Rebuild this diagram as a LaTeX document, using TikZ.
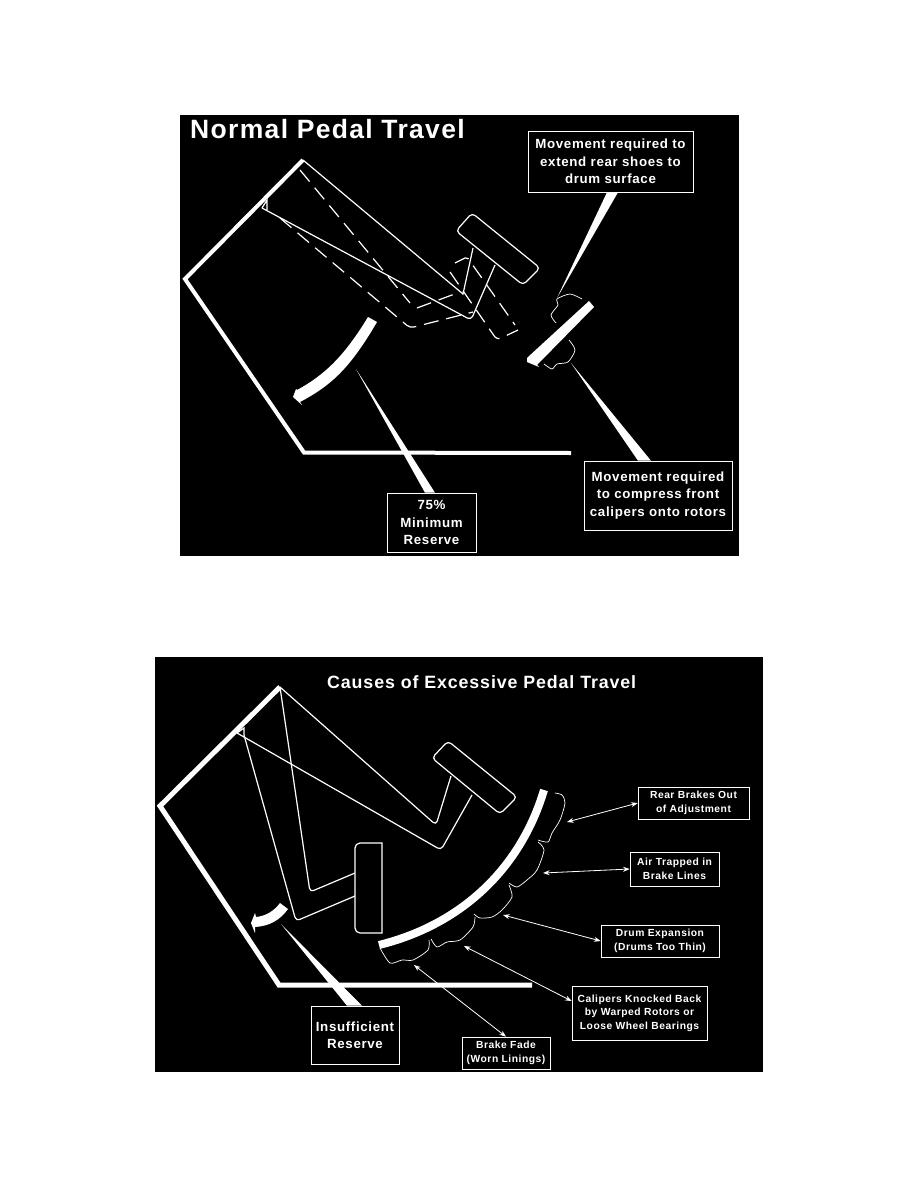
\documentclass[tikz,border=0pt]{standalone}
\usepackage{xcolor}
\usepackage{fontspec}
\setsansfont{Liberation Sans}[LetterSpace=5]
\usetikzlibrary{arrows.meta,calc}
\definecolor{pdBlack}{HTML}{000000}
\definecolor{pdWhite}{HTML}{FFFFFF}
\tikzset{
  pd-box/.style={
    draw=pdWhite, line width=0.6pt, text=pdWhite, align=center,
    inner sep=0pt, font=\fontsize{13.3}{17.5}\selectfont\bfseries\sffamily
  },
  pd-small/.style={pd-box, font=\fontsize{10.3}{13.5}\selectfont\bfseries\sffamily},
  pd-title/.style={text=pdWhite, inner sep=0pt, anchor=west},
  pd-frame/.style={draw=pdWhite, line width=4pt, line join=miter},
  pd-line/.style={draw=pdWhite, line width=1.2pt},
  pd-dash/.style={pd-line, dash pattern=on 15pt off 8pt},
  pd-brace/.style={draw=pdWhite, line width=0.7pt, smooth, tension=0.45},
  pd-flow/.style={Stealth-Stealth, draw=pdWhite, line width=0.8pt}
}
\begin{document}
\begin{tikzpicture}[x=1pt, y=-1pt]
\useasboundingbox (0,0) rectangle (918,1188);
\fill[pdWhite] (0,0) rectangle (918,1188);
\fill[pdBlack] (180,115) rectangle (739,556);
\fill[pdBlack] (155,657) rectangle (763,1072);

% --- Normal Pedal Travel ---
\node[pd-title, font=\fontsize{26.5}{30}\selectfont\bfseries\sffamily] (normaltitle) at (190,129.5) {Normal Pedal Travel};
\node[pd-box, minimum width=165pt, minimum height=61pt] (shoesbox) at (610.5,161.5)
  {Movement required to\\extend rear shoes to\\drum surface};
\node[pd-box, minimum width=148pt, minimum height=69pt] (compressbox) at (658,495.5)
  {Movement required\\to compress front\\calipers onto rotors};
\node[pd-box, minimum width=89pt, minimum height=59pt] (reservebox) at (431.5,522.5)
  {75\%\\Minimum\\Reserve};

% floor frame
\draw[pd-frame] (303,160) -- (185,279) -- (304,452.5) -- (571,453);

% pedal at rest
\draw[pd-line] (303,160) -- (463,294) -- (473,248);
\draw[pd-line, rounded corners=4pt] (262,208) -- (471,320) -- (495,265);
\draw[pd-line] (262,208) -- (267,200) -- (267,210);
\draw[pd-line, fill=pdBlack, rounded corners=4pt] (472,213) -- (540,268) -- (523,285) -- (456,231) -- cycle;

% pedal pushed
\draw[pd-dash] (300,170) -- (410,303);
\draw[pd-dash] (417,308) -- (460,292);
\draw[pd-dash, rounded corners=4pt] (280,218) -- (410,328) -- (473,312);
\draw[pd-dash, rounded corners=4pt] (450,272) -- (497,340) -- (518,330);
\draw[pd-dash, rounded corners=2pt] (455,263) -- (467,257) -- (515,325);

% reserve arrow
\fill[pdWhite] (377,322) .. controls (350,368) and (332,385) .. (300,402)
  -- (302,405) -- (293,397) -- (296,389) -- (297,390)
  .. controls (325,375) and (345,355) .. (368,317) -- cycle;

% shoe bar
\fill[pdWhite] (589,301) -- (594,307) -- (537,365) -- (539,367) -- (527,362) -- (527,358) -- (528,357) -- cycle;

% braces
\draw[pd-brace] plot coordinates {(582,299) (570,294) (557,299) (558,305) (551,315) (556,323)};
\draw[pd-brace] plot coordinates {(569,340) (575,350) (568,362) (557,364) (552,369) (544,364)};
\coordinate (shoescusp) at (557,298);
\coordinate (compresscusp) at (571,363);
\coordinate (reservetip) at (356,369);
\fill[pdWhite] (shoescusp) -- ($(shoesbox.south)+(-3.5,0)$) -- ($(shoesbox.south)+(7.5,0)$) -- cycle;
\fill[pdWhite] (compresscusp) -- ($(compressbox.north)+(-20,0)$) -- ($(compressbox.north)+(-7,0)$) -- cycle;
\fill[pdWhite] (reservetip) -- ($(reservebox.north)+(-6.5,0)$) -- ($(reservebox.north)+(3.5,0)$) -- cycle;

% --- Causes of Excessive Pedal Travel ---
\node[pd-title, font=\fontsize{17.8}{22}\selectfont\bfseries\sffamily] (causestitle) at (327,682) {Causes of Excessive Pedal Travel};
\node[pd-box, minimum width=88pt, minimum height=58pt] (insuffbox) at (355,1035)
  {Insufficient\\Reserve};
\node[pd-small, minimum width=88pt, minimum height=32pt] (fadebox) at (506,1053)
  {Brake Fade\\(Worn Linings)};
\node[pd-small, minimum width=135pt, minimum height=54pt] (calipersbox) at (639.5,1013)
  {Calipers Knocked Back\\by Warped Rotors or\\Loose Wheel Bearings};
\node[pd-small, minimum width=118pt, minimum height=32pt] (drumbox) at (660,941)
  {Drum Expansion\\(Drums Too Thin)};
\node[pd-small, minimum width=89pt, minimum height=34pt] (airbox) at (674.5,869)
  {Air Trapped in\\Brake Lines};
\node[pd-small, minimum width=111pt, minimum height=32pt] (rearbox) at (693.5,803)
  {Rear Brakes Out\\of Adjustment};

% floor frame
\draw[pd-frame, line width=5pt] (280,687) -- (160,806) -- (279,985) -- (532,985);

% pedal at rest
\draw[pd-line, rounded corners=4pt] (280,687) -- (436,825) -- (451,776);
\draw[pd-line, rounded corners=4pt] (237,733) -- (441,850) -- (472,795);
\draw[pd-line, fill=pdBlack, rounded corners=4pt] (448,741) -- (517,797) -- (500,814) -- (432,758) -- cycle;

% pedal pushed
\draw[pd-line] (237,733) -- (244,728) -- (244,735);
\draw[pd-line, rounded corners=4pt] (244,735) -- (296,921) -- (355,896);
\draw[pd-line, rounded corners=4pt] (280,687) -- (310,892) -- (355,873);
\draw[pd-line] (382,933) [rounded corners=5pt] -- (355,933) -- (355,843) [sharp corners] -- (382,843) -- cycle;

% reserve arrow
\fill[pdWhite] (288,909) .. controls (280,920) and (270,926) .. (255,927)
  -- (255,933) -- (251,923) -- (255,913) -- (256,917)
  .. controls (266,916) and (274,911) .. (280,903) -- cycle;

% drum arc
\draw[draw=pdWhite, line width=8pt] (544,790) .. controls (520,870) and (460,925) .. (379,945);

% braces
\draw[pd-brace] plot coordinates {(555,793) (562,795) (565,803) (560,820) (552,833) (548,842) (538,840)};
\draw[pd-brace] plot coordinates {(538,842) (544,850) (537,870) (527,880) (517,887) (509,883)};
\draw[pd-brace] plot coordinates {(509,885) (512,897) (502,910) (492,917) (480,918) (474,914)};
\draw[pd-brace] plot coordinates {(475,917) (473,927) (460,940) (447,942) (437,947) (431,939)};
\draw[pd-brace] plot coordinates {(429,940) (428,950) (413,960) (402,960) (390,963) (380,948)};
\coordinate (rearcusp) at (567,822);
\coordinate (aircusp) at (543,873);
\coordinate (drumcusp) at (503,915);
\coordinate (caliperscusp) at (464,946);
\coordinate (fadecusp) at (414,965);
\coordinate (insufftip) at (281,924);
\fill[pdWhite] (insufftip) -- ($(insuffbox.north)+(-8,0)$) -- ($(insuffbox.north)+(7,0)$) -- cycle;

% --- Flux ---
\draw[pd-flow] (rearcusp) -- (rearbox.west);
\draw[pd-flow] (aircusp) -- (airbox.west);
\draw[pd-flow] (drumcusp) -- (drumbox.west);
\draw[pd-flow] (caliperscusp) -- (calipersbox.170);
\draw[pd-flow] (fadecusp) -- (fadebox.north);
\end{tikzpicture}
\end{document}
